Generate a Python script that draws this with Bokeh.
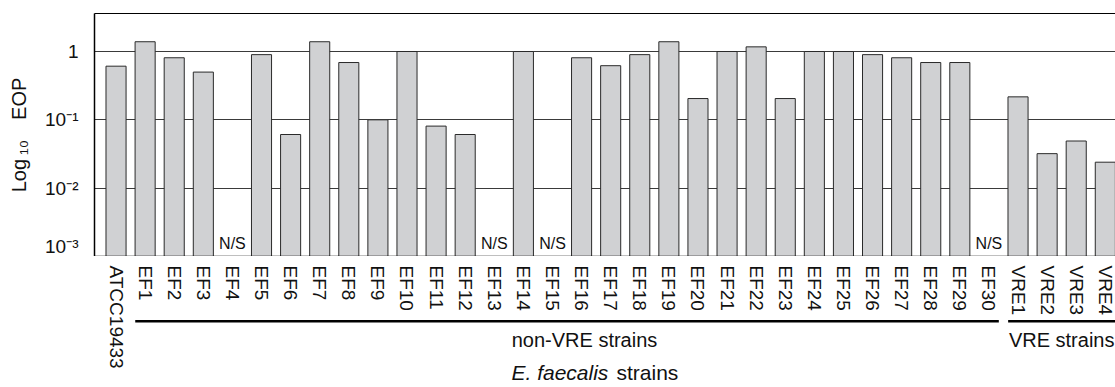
import math
from bokeh.plotting import figure
from bokeh.layouts import column
from bokeh.models import ColumnDataSource, Range1d, FixedTicker, LinearAxis
from bokeh.core.properties import value
from bokeh.embed import file_html
from bokeh.resources import INLINE

# ---- data ----
strains = ["ATCC19433",
           "EF1", "EF2", "EF3", "EF4", "EF5", "EF6", "EF7", "EF8", "EF9", "EF10",
           "EF11", "EF12", "EF13", "EF14", "EF15", "EF16", "EF17", "EF18", "EF19", "EF20",
           "EF21", "EF22", "EF23", "EF24", "EF25", "EF26", "EF27", "EF28", "EF29", "EF30",
           "VRE1", "VRE2", "VRE3", "VRE4"]
eop = [0.61,
       1.39, 0.81, 0.50, None, 0.90, 0.061, 1.39, 0.69, 0.10, 1.0,
       0.081, 0.061, None, 1.0, None, 0.81, 0.62, 0.90, 1.39, 0.205,
       1.0, 1.17, 0.205, 1.0, 1.0, 0.90, 0.81, 0.69, 0.69, None,
       0.217, 0.032, 0.049, 0.024]
missing_label = "N/S"
y_tick_values = [1e-3, 1e-2, 1e-1, 1.0]
y_tick_labels = ["10\u207b\u00b3", "10\u207b\u00b2", "10\u207b\u00b9", "1"]
group_names = ["non-VRE strains", "VRE strains"]
group_first = ["EF1", "VRE1"]
group_last = ["EF30", "VRE4"]
y_label = "Log\u2009\u2081\u2080\u2003EOP"
x_label_italic = "E. faecalis"
x_label_plain = "strains"

FONT = "Liberation Sans"
TXT = "#111111"
W = 1115
LEFT = 94
idx = list(range(len(strains)))
src = ColumnDataSource(dict(x=idx,
                            top=[v if v is not None else float("nan") for v in eop],
                            strain=strains))
ns_x = [i for i, v in zip(idx, eop) if v is None]

x_range = Range1d(-0.74, 34.35)

# ---------- main bar chart ----------
p = figure(width=W, height=256, y_axis_type="log",
           x_range=x_range, y_range=Range1d(1e-3, 3.6),
           output_backend="svg", toolbar_location=None,
           min_border_left=LEFT, min_border_right=0, min_border_top=13,
           min_border_bottom=0)
p.outline_line_color = None
p.background_fill_color = "white"
p.border_fill_color = "white"

p.vbar(x="x", top="top", bottom=1e-3, width=0.69, source=src,
       fill_color="#d0d1d3", line_color="#2a2a2a", line_width=1)

p.text(x=ns_x, y=[1e-3] * len(ns_x), text=[missing_label] * len(ns_x),
       text_font=value(FONT), text_font_size="16px", text_color=TXT,
       text_align="center", text_baseline="bottom", y_offset=-5)

ya = p.yaxis[0]
ya.ticker = FixedTicker(ticks=y_tick_values)
ya.major_label_overrides = dict(zip(y_tick_values, y_tick_labels))
ya.major_tick_line_color = None
ya.minor_tick_line_color = None
ya.axis_line_color = "black"
ya.axis_line_width = 1.5
ya.major_label_text_font = FONT
ya.major_label_text_font_size = "19px"
ya.major_label_text_color = TXT
ya.major_label_standoff = 10
ya.axis_label = y_label
ya.axis_label_text_font = FONT
ya.axis_label_text_font_size = "20px"
ya.axis_label_text_font_style = "normal"
ya.axis_label_text_color = TXT
ya.axis_label_standoff = 12

xa = p.xaxis[0]
xa.ticker = FixedTicker(ticks=[])
xa.major_tick_line_color = None
xa.minor_tick_line_color = None
xa.major_label_text_font_size = "0px"
xa.major_label_standoff = 0
xa.axis_line_color = "black"
xa.axis_line_width = 1.5

top = LinearAxis(ticker=FixedTicker(ticks=[]), major_tick_line_color=None,
                 minor_tick_line_color=None, major_label_text_font_size="0px",
                 major_label_standoff=0, axis_line_color="black", axis_line_width=1.2)
p.add_layout(top, "above")

p.xgrid.grid_line_color = None
p.ygrid.grid_line_color = "#3a3a3a"
p.ygrid.grid_line_width = 1
p.ygrid.ticker = FixedTicker(ticks=y_tick_values)

# ---------- strain labels, group brackets and axis title ----------
q = figure(width=W, height=131, x_range=x_range, y_range=Range1d(-131, 0),
           output_backend="svg", toolbar_location=None,
           min_border_left=LEFT, min_border_right=0, min_border_top=0,
           min_border_bottom=0)
q.axis.visible = False
q.grid.visible = False
q.outline_line_color = None
q.background_fill_color = "white"
q.border_fill_color = "white"

q.text(x="x", y=-9, text="strain", source=src, angle=-math.pi / 2,
       text_font=value(FONT), text_font_size="19px", text_color=TXT,
       text_align="left", text_baseline="middle")

g0 = [strains.index(a) - 0.34 for a in group_first]
g1 = [strains.index(b) + 0.34 for b in group_last]
q.segment(x0=g0, x1=g1, y0=-64.7, y1=-64.7, line_width=2.6, line_color="black")

label_x = {"non-VRE strains": 16.1}
gx = [label_x.get(n, (strains.index(a) + strains.index(b)) / 2)
      for n, a, b in zip(group_names, group_first, group_last)]
q.text(x=gx, y=[-83] * len(gx), text=group_names, text_font=value(FONT),
       text_font_size="20px", text_color=TXT, text_align="center",
       text_baseline="middle")

q.text(x=[16.92], y=[-116], text=[x_label_italic], text_font=value(FONT),
       text_font_style="italic", text_font_size="21px", text_color=TXT,
       text_align="right", text_baseline="middle")
q.text(x=[17.2], y=[-116], text=[x_label_plain], text_font=value(FONT),
       text_font_size="21px", text_color=TXT, text_align="left",
       text_baseline="middle")

layout = column(p, q, spacing=0)
open("out.html", "w").write(file_html(layout, INLINE))
